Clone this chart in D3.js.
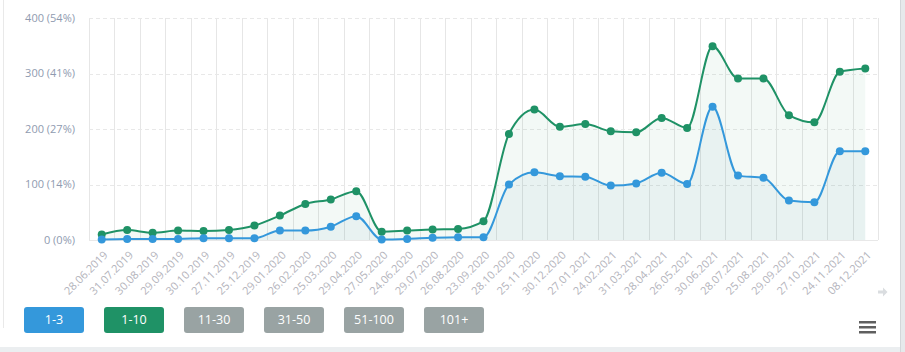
<!DOCTYPE html>
<html>
<head>
<meta charset="utf-8">
<script src="https://cdn.jsdelivr.net/npm/d3@7"></script>
<style>
  body { margin: 0; background: #fff; font-family: "Open Sans", sans-serif; }
  svg { display: block; }
</style>
</head>
<body>
<svg class="chart"></svg>
<script>
const dates = ["28.06.2019", "31.07.2019", "30.08.2019", "29.09.2019", "30.10.2019", "27.11.2019",
    "25.12.2019", "29.01.2020", "26.02.2020", "25.03.2020", "29.04.2020", "27.05.2020", "24.06.2020",
    "29.07.2020", "26.08.2020", "23.09.2020", "28.10.2020", "25.11.2020", "30.12.2020", "27.01.2021",
    "24.02.2021", "31.03.2021", "28.04.2021", "26.05.2021", "30.06.2021", "28.07.2021", "25.08.2021",
    "29.09.2021", "27.10.2021", "24.11.2021", "08.12.2021"];

const top3 = [1, 2, 2, 2, 3, 3, 3, 17, 17, 24, 43, 1, 2, 4, 5, 5, 100, 122, 115, 114,
    98, 102, 121, 101, 240, 116, 112, 71, 68, 160, 160];

const top10 = [10, 18, 13, 17, 16, 18, 26, 44, 65, 73, 88, 15, 17, 19, 20, 34, 191, 235, 204, 209,
    196, 194, 220, 202, 349, 291, 291, 225, 212, 303, 309];

const yTicks = [0, 100, 200, 300, 400];
const yTickLabels = ["0 (0%)", "100 (14%)", "200 (27%)", "300 (41%)", "400 (54%)"];

const buttons = ["1-3", "1-10", "11-30", "31-50", "51-100", "101+"];
const buttonColors = ["#3498db", "#1f9266", "#99a3a3", "#99a3a3", "#99a3a3", "#99a3a3"];

const width = 905, height = 352;
const plot = {left: 89, right: 878, top: 18, bottom: 240};

const svg = d3.select(".chart")
    .attr('width', width)
    .attr('height', height);

// page frame
svg.append('rect').attr('x', 900).attr('y', 0).attr('width', 5).attr('height', height).style('fill', '#e6e9eb');
svg.append('line').attr('x1', 900.5).attr('x2', 900.5).attr('y1', 0).attr('y2', height).style('stroke', '#d3d7da');
svg.append('rect').attr('x', 0).attr('y', 347).attr('width', 900).attr('height', 5).style('fill', '#ebeef0');
svg.append('line').attr('x1', 3.5).attr('x2', 3.5).attr('y1', 0).attr('y2', 328).style('stroke', '#e9e9e9');

const x = d3.scaleBand()
    .domain(dates)
    .range([plot.left, plot.right]);

const y = d3.scaleLinear()
    .domain([0, 400])
    .range([plot.bottom, plot.top]);

const cx = (d, i) => x(dates[i]) + x.bandwidth() / 2;

// vertical grid at band edges
const edges = dates.map(d => x(d)).concat([plot.right]);
svg.selectAll('.vgrid')
    .data(edges)
    .enter().append('line')
    .attr('class', 'vgrid')
    .attr('x1', d => Math.round(d) + 0.5)
    .attr('x2', d => Math.round(d) + 0.5)
    .attr('y1', plot.top)
    .attr('y2', plot.bottom)
    .style('stroke', '#e6e6e6');

// horizontal dashed grid
svg.selectAll('.hgrid')
    .data(yTicks)
    .enter().append('line')
    .attr('class', 'hgrid')
    .attr('x1', plot.left)
    .attr('x2', plot.right)
    .attr('y1', d => Math.round(y(d)) + 0.5)
    .attr('y2', d => Math.round(y(d)) + 0.5)
    .style('stroke', '#e8e8e8')
    .style('stroke-dasharray', d => d === 0 ? null : '4,3');

// y labels
svg.selectAll('.ylabel')
    .data(yTicks)
    .enter().append('text')
    .attr('class', 'ylabel')
    .attr('x', 75)
    .attr('y', d => y(d))
    .attr('dy', '0.35em')
    .attr('text-anchor', 'end')
    .style('font-size', '11px')
    .style('fill', '#8f9bb0')
    .text((d, i) => yTickLabels[i]);

// x labels
svg.selectAll('.xlabel')
    .data(dates)
    .enter().append('text')
    .attr('class', 'xlabel')
    .attr('transform', (d, i) => `translate(${cx(d, i) + 4},${plot.bottom + 13}) rotate(-45)`)
    .attr('text-anchor', 'end')
    .attr('dy', '0.35em')
    .style('font-size', '11px')
    .style('fill', '#b3b3bb')
    .text(d => d);

const curve = d3.curveMonotoneX;

const area = d3.area()
    .x(cx)
    .y0(y(0))
    .y1(d => y(d))
    .curve(curve);

const line = d3.line()
    .x(cx)
    .y(d => y(d))
    .curve(curve);

const series = [
    {values: top10, colour: '#1f9266', fill: 'rgba(30,140,100,0.055)'},
    {values: top3, colour: '#3498db', fill: 'rgba(40,120,160,0.05)'}
];

series.forEach(s => {
    svg.append('path')
        .datum(s.values)
        .attr('d', area)
        .style('fill', s.fill);
});

series.forEach(s => {
    svg.append('path')
        .datum(s.values)
        .attr('d', line)
        .style('fill', 'none')
        .style('stroke', s.colour)
        .style('stroke-width', 2);

    svg.selectAll(null)
        .data(s.values)
        .enter().append('circle')
        .attr('cx', cx)
        .attr('cy', d => y(d))
        .attr('r', 4)
        .style('fill', s.colour);
});

// scroll arrow
svg.append('path')
    .attr('transform', 'translate(883,292)')
    .attr('d', 'M-5,-1.5 H0 V-4.5 L4.5,0 L0,4.5 V1.5 H-5 Z')
    .style('fill', '#dadde0');

// legend buttons
const btn = svg.selectAll('.btn')
    .data(buttons)
    .enter().append('g')
    .attr('class', 'btn')
    .attr('transform', (d, i) => `translate(${24 + i * 80},307)`);

btn.append('rect')
    .attr('width', 60)
    .attr('height', 26)
    .attr('rx', 3)
    .style('fill', (d, i) => buttonColors[i]);

btn.append('text')
    .attr('x', 30)
    .attr('y', 13)
    .attr('dy', '0.35em')
    .attr('text-anchor', 'middle')
    .style('font-size', '12.5px')
    .style('fill', '#fff')
    .text(d => d);

// menu icon
svg.selectAll('.menu')
    .data([0, 1, 2])
    .enter().append('rect')
    .attr('x', 859)
    .attr('y', d => 321 + d * 5)
    .attr('width', 17)
    .attr('height', 2.5)
    .style('fill', '#5f5f5f');
</script>
</body>
</html>
